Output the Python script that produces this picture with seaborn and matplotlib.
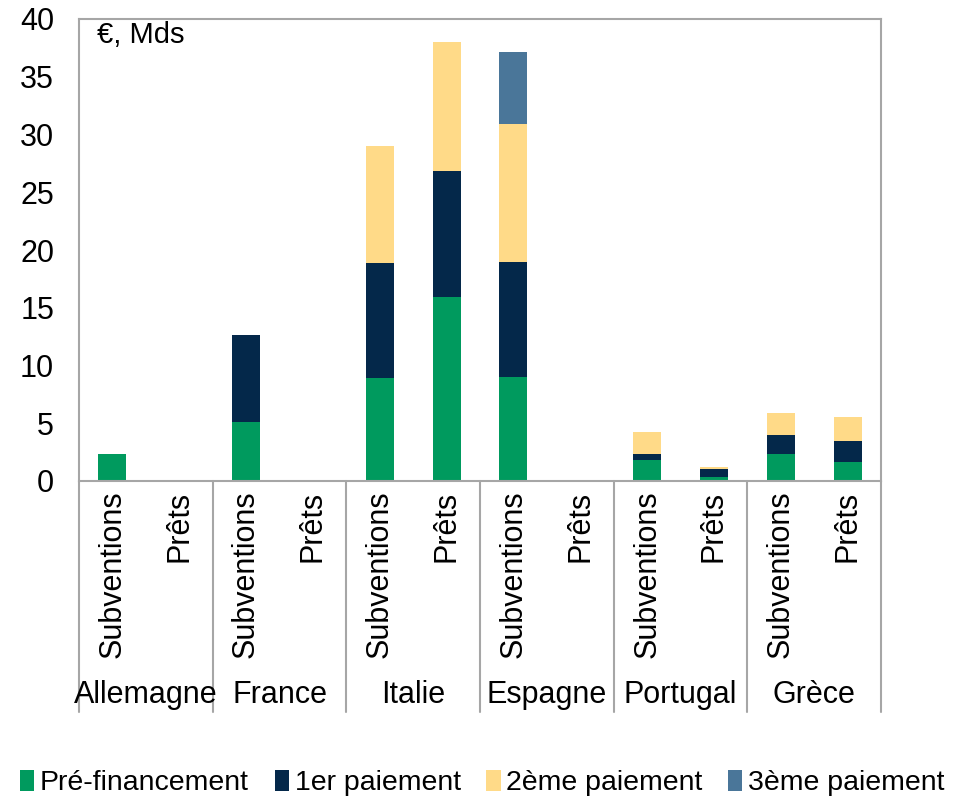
import matplotlib
matplotlib.use("Agg")
import matplotlib.pyplot as plt
import seaborn as sns
import numpy as np
import pandas as pd
from matplotlib.patches import Patch

pays = ["Allemagne", "France", "Italie", "Espagne", "Portugal", "Grèce"]
types = ["Subventions", "Prêts"]
series = ["Pré-financement", "1er paiement", "2ème paiement", "3ème paiement"]

# values per bar, order: Allemagne S/P, France S/P, Italie S/P, Espagne S/P, Portugal S/P, Grèce S/P
pre_fin = [2.3, 0, 5.1, 0, 8.9, 15.9, 9.0, 0, 1.8, 0.35, 2.3, 1.65]
paie_1 = [0, 0, 7.5, 0, 10.0, 10.9, 10.0, 0, 0.5, 0.65, 1.7, 1.85]
paie_2 = [0, 0, 0, 0, 10.1, 11.2, 11.9, 0, 1.9, 0.2, 1.9, 2.0]
paie_3 = [0, 0, 0, 0, 0, 0, 6.2, 0, 0, 0, 0, 0]

colors = ["#009A5E", "#04284A", "#FFDA88", "#4A7699"]
grey = "#A6A6A6"

sns.set_theme(style="white")
plt.rcParams["font.family"] = ["Liberation Sans", "DejaVu Sans"]
plt.rcParams["text.color"] = "black"
plt.rcParams["xtick.color"] = "black"
plt.rcParams["ytick.color"] = "black"

keys = [f"{p}|{t}" for p in pays for t in types]
df = pd.DataFrame({"bar": keys, "s0": pre_fin, "s1": paie_1, "s2": paie_2, "s3": paie_3})
cum = df[["s0", "s1", "s2", "s3"]].cumsum(axis=1)

fig = plt.figure(figsize=(9.59, 8), dpi=100)
ax = fig.add_axes([0.0824, 0.39875, 0.8363, 0.5775])

# stacked bars drawn from the top total down
for i in range(3, -1, -1):
    sns.barplot(x=df["bar"], y=cum.iloc[:, i], color=colors[i], width=0.42,
                order=keys, ax=ax, saturation=1, linewidth=0)

ax.set_ylim(0, 40)
ax.set_xlim(-0.5, len(keys) - 0.5)
ax.set_yticks(range(0, 41, 5))
ax.tick_params(axis="y", length=0, pad=18, labelsize=22, labelcolor="black")
ax.set_xlabel("")
ax.set_ylabel("")
ax.set_xticks(range(len(keys)))
ax.set_xticklabels([t for p in pays for t in types], rotation=90, fontsize=22)
ax.tick_params(axis="x", length=0, pad=7, labelcolor="black")
for s in ax.spines.values():
    s.set_color(grey)
    s.set_linewidth(1.5)

# group separators below axis
trans = ax.get_xaxis_transform()
for g in range(len(pays) + 1):
    xg = g * 2 - 0.5
    ax.plot([xg, xg], [0, -0.5], transform=trans, color=grey, lw=1.5, clip_on=False)
for g, p in enumerate(pays):
    ax.text(g * 2 + 0.5, -0.463, p, transform=trans, ha="center", va="center", fontsize=22,
            color="black")

ax.text(0.022, 0.965, "€, Mds", transform=ax.transAxes, ha="left", va="center", fontsize=21,
        color="black")

handles = [Patch(facecolor=c, edgecolor="none") for c in colors]
fig.legend(handles, series, loc="center", bbox_to_anchor=(0.503, 0.021), ncol=4, frameon=False,
           fontsize=20.5, handlelength=0.5, handleheight=0.75, handletextpad=0.2, columnspacing=0.9,
           labelcolor="black")

fig.savefig("out.png", dpi=100)
